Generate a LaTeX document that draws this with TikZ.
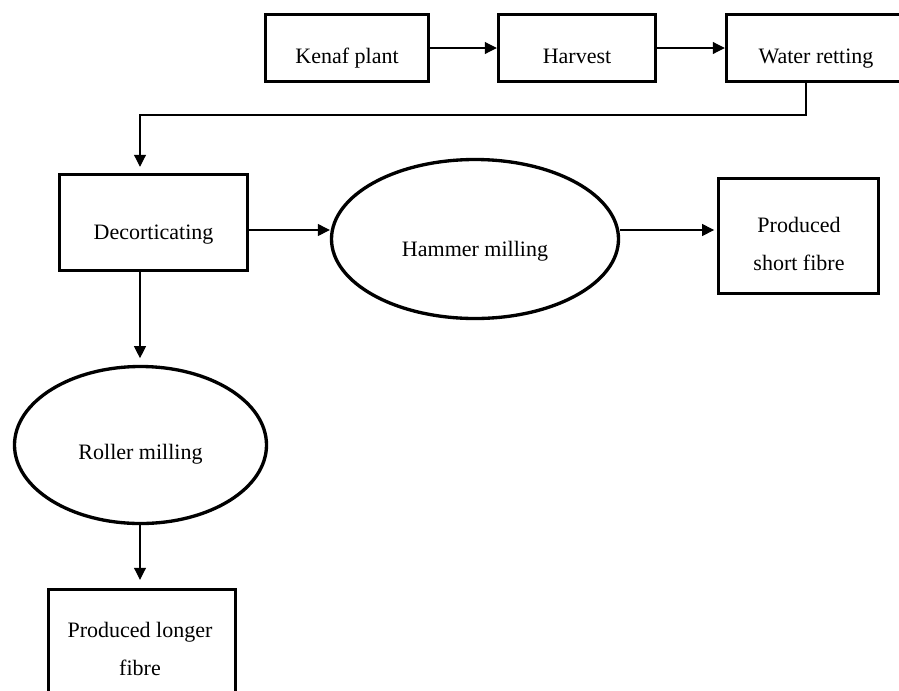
\documentclass[tikz,border=0pt]{standalone}
\usepackage{fontspec}
\setmainfont{Liberation Serif}
\usetikzlibrary{arrows.meta,shapes.geometric}
\begin{document}
\begin{tikzpicture}[x=0.75pt,y=-0.75pt,
  stepbox/.style={draw=black,line width=2.6pt,rectangle,inner sep=0pt,
    font=\fontsize{16.5pt}{28.5pt}\selectfont,text depth=0pt},
  millbox/.style={draw=black,line width=2.5pt,ellipse,inner sep=0pt,
    font=\fontsize{16.5pt}{28.5pt}\selectfont,text depth=0pt},
  lbl/.style={inner sep=0pt,align=center,font=\fontsize{16.5pt}{28.5pt}\selectfont},
  arr/.style={draw=black,line width=0.8pt,-{Triangle[length=9pt,width=9pt]}},
  conn/.style={draw=black,line width=0.8pt}]
\useasboundingbox (0,0) rectangle (899,690);
\clip (0,0) rectangle (899,690);

% top row
\node[stepbox,minimum width=122.25pt,minimum height=50.25pt,text height=22.5pt] (kenaf) at (347,48) {Kenaf plant};
\node[stepbox,minimum width=117.75pt,minimum height=50.25pt,text height=23.5pt] (harvest) at (577,48) {Harvest};
\node[stepbox,minimum width=134.25pt,minimum height=50.25pt,text height=23.5pt] (water) at (816,48) {Water retting};

% middle
\node[stepbox,minimum width=141pt,minimum height=72pt,text height=24.75pt] (dec) at (153.5,222.5) {Decorticating};
\node[millbox,minimum width=215.25pt,minimum height=119.25pt,text height=25.5pt] (hammer) at (475,239) {Hammer milling};
\node[stepbox,minimum width=120pt,minimum height=86.25pt] (sfib) at (798.5,236) {};
\node[lbl] (sfibt) at (799,243.5) {Produced\\short fibre};

% lower
\node[millbox,minimum width=189pt,minimum height=117.75pt,text height=21pt] (roller) at (140.5,445) {Roller milling};
\node[stepbox,minimum width=140.25pt,minimum height=86.25pt] (lfib) at (142,647) {};
\node[lbl] (lfibt) at (140,649) {Produced longer\\fibre};

% helper coordinates
\coordinate (b1) at (806,115);
\coordinate (b2) at (140,115);
\coordinate (h1) at (0,230);

% connectors
\draw[arr] (kenaf.east) -- (harvest.west);
\draw[arr] (harvest.east) -- (water.west);
\draw[arr,shorten >=4.5pt] (water.south -| b1) -- (b1) -- (b2) -- (b2 |- dec.north);
\draw[arr] (dec.east |- h1) -- (hammer.west |- h1);
\draw[arr,shorten >=2pt] (hammer.east |- h1) -- (sfib.west |- h1);
\draw[arr,shorten >=5pt] (dec.south -| b2) -- (b2 |- roller.north);
\draw[arr,shorten >=6pt] (roller.south -| b2) -- (b2 |- lfib.north);
\end{tikzpicture}
\end{document}
